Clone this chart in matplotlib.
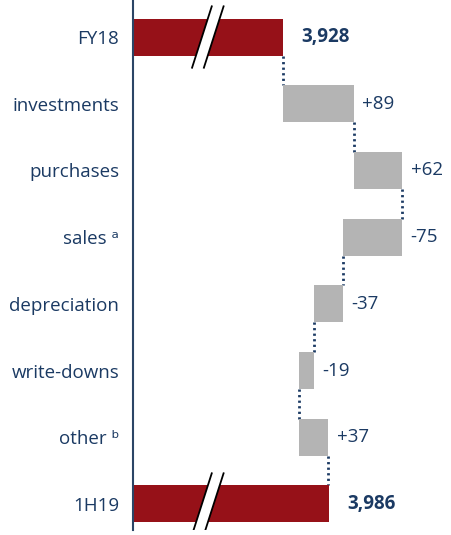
import matplotlib.pyplot as plt
from matplotlib.patches import Polygon

plt.rcParams['font.family'] = ['Open Sans', 'DejaVu Sans']

categories = ["FY18", "investments", "purchases", "sales \u1d43", "depreciation",
              "write-downs", "other \u1d47", "1H19"]
start_total = 3928
end_total = 3986
changes = [89, 62, -75, -37, -19, 37]
change_labels = ["+89", "+62", "-75", "-37", "-19", "+37"]
total_labels = ["3,928", "3,986"]

red = "#961118"
grey = "#b4b4b4"
navy = "#1b3a63"

x_min, x_max = 3737, 4142
h = 0.555

fig = plt.figure(figsize=(4.52, 5.35), dpi=100)
ax = fig.add_axes([133 / 452, 5 / 535, 1 - 133 / 452, 530 / 535])
ax.set_xlim(x_min, x_max)
ax.set_ylim(7.39, -0.555)

# totals
totals = [(0, start_total, total_labels[0]), (7, end_total, total_labels[1])]
for row, val, lab in totals:
    ax.barh(row, val - x_min, left=x_min, height=h, color=red, zorder=2)
    ax.annotate(lab, (val, row), xytext=(13, 0), textcoords="offset points",
                va="center", ha="left", fontsize=13.5, fontweight="bold", color=navy)
    # axis break marks
    xb, g, s, e = 3832, 7.5, 12.5, 0.46
    xs_l = [xb - g - s, xb - g + s]
    xs_r = [xb + g - s, xb + g + s]
    ys = [row + e, row - e]
    ax.add_patch(Polygon([(xs_l[0], ys[0]), (xs_r[0], ys[0]), (xs_r[1], ys[1]), (xs_l[1], ys[1])],
                         closed=True, facecolor="white", edgecolor="none", zorder=3))
    ax.plot(xs_l, ys, color="black", lw=1.3, zorder=4)
    ax.plot(xs_r, ys, color="black", lw=1.3, zorder=4)

# changes
level = start_total
for i, (d, lab) in enumerate(zip(changes, change_labels)):
    row = i + 1
    new = level + d
    ax.plot([level, level], [row - 1 + h / 2, row - h / 2], color=navy, lw=2,
            linestyle=(0, (0.8, 1.2)), zorder=1)
    ax.barh(row, d, left=level, height=h, color=grey, zorder=2)
    ax.annotate(lab, (max(level, new), row), xytext=(6, 0), textcoords="offset points",
                va="center", ha="left", fontsize=13.5, color=navy)
    level = new
ax.plot([level, level], [6 + h / 2, 7 - h / 2], color=navy, lw=2,
        linestyle=(0, (0.8, 1.2)), zorder=1)

ax.set_yticks(range(len(categories)))
ax.set_yticklabels(categories, fontsize=13.5, color=navy)
ax.tick_params(axis="y", length=0, pad=10)
ax.set_xticks([])
for side in ["top", "right", "bottom"]:
    ax.spines[side].set_visible(False)
ax.spines["left"].set_color("#2b4566")
ax.spines["left"].set_linewidth(1.5)

fig.savefig("out.png", dpi=100)
